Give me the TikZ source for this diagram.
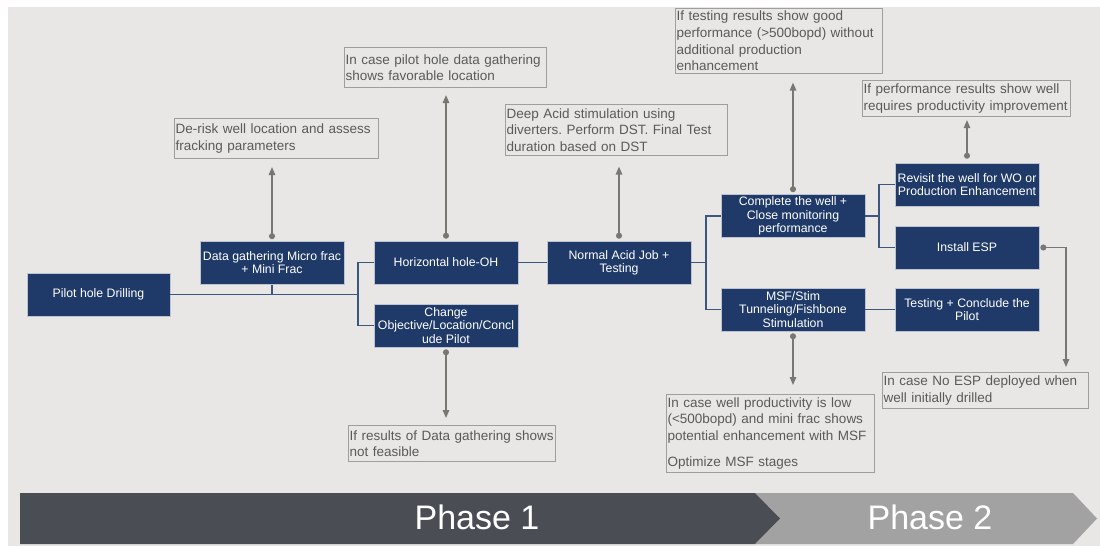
\documentclass[tikz,border=0pt]{standalone}
\usepackage{fontspec}
\setmainfont{Liberation Sans}
\usetikzlibrary{arrows.meta}
\definecolor{bg}{HTML}{E8E7E5}
\definecolor{navy}{HTML}{1F3A68}
\definecolor{connc}{HTML}{3C5682}
\definecolor{annl}{HTML}{7A7672}
\definecolor{annb}{HTML}{A09E9C}
\definecolor{annt}{HTML}{5A5A5A}
\definecolor{ph1}{HTML}{4A4E54}
\definecolor{ph2}{HTML}{A2A2A2}
\frenchspacing
\begin{document}
\begin{tikzpicture}[x=1pt,y=-1pt,
  stepbox/.style={fill=navy, draw=white!70!navy, line width=0.6pt, text=white, align=center,
    font=\fontsize{12.3}{13.2}\selectfont, minimum width=144pt, minimum height=43pt, inner sep=1pt},
  note/.style 2 args={draw=annb, line width=1.1pt, text=annt, align=left,
    font=\fontsize{13.5}{16.6}\selectfont, inner xsep=1pt, inner ysep=1pt, anchor=north west,
    text width=#1, minimum height=#2},
  conn/.style={draw=connc, line width=1.4pt},
  ann/.style={draw=annl, line width=1.4pt, {Circle[length=6pt,fill=annl]}-{Triangle[length=8pt,width=6.5pt,fill=annl]}},
  phase/.style={text=white, font=\fontsize{34}{40}\selectfont, anchor=base},
]
\useasboundingbox (0,0) rectangle (1100,548);
\fill[white] (0,0) rectangle (1100,548);
\fill[bg] (8,7) rectangle (1100,546);

% process boxes
\node[stepbox, minimum width=143pt] (pilot) at (98.5,294.5) {Pilot hole Drilling};
\node[stepbox] (dg) at (272,263) {Data gathering Micro frac\\+ Mini Frac};
\node[stepbox] (hh) at (446,262.5) {Horizontal hole-OH};
\node[stepbox] (chg) at (446,325.5) {Change\\Objective/Location/Concl\\ude Pilot};
\node[stepbox] (na) at (619,262.5) {Normal Acid Job +\\Testing};
\node[stepbox] (cw) at (793,216) {Complete the well +\\Close monitoring\\performance};
\node[stepbox] (rv) at (967,184.5) {Revisit the well for WO or\\Production Enhancement};
\node[stepbox] (esp) at (967,247.5) {Install ESP};
\node[stepbox] (msf) at (793,309.5) {MSF/Stim\\Tunneling/Fishbone\\Stimulation};
\node[stepbox] (tc) at (967,309.5) {Testing + Conclude the\\Pilot};

% annotation boxes
\node[note={202pt}{40pt}] (derisk) at (174,118) {De-risk well location and assess\\fracking parameters};
\node[note={200pt}{40pt}] (fav) at (344,47) {In case pilot hole data gathering\\shows favorable location};
\node[note={220pt}{51pt}] (deep) at (505,104) {Deep Acid stimulation using\\diverters. Perform DST. Final Test\\duration based on DST};
\node[note={205pt}{65pt}] (good) at (675,8) {If testing results show good\\performance (>500bopd) without\\additional production\\enhancement};
\node[note={206pt}{36pt}] (perf) at (862,80) {If performance results show well\\requires productivity improvement};
\node[note={206pt}{78pt}] (low) at (666,394) {In case well productivity is low\\(<500bopd) and mini frac shows\\potential enhancement with MSF\\[10pt]Optimize MSF stages};
\node[note={204pt}{36pt}] (noesp) at (882,372) {In case No ESP deployed when\\well initially drilled};
\node[note={205pt}{36pt}] (notfeas) at (348,425) {If results of Data gathering shows\\not feasible};

% flow connectors
\coordinate (j1) at (358,294.5);
\coordinate (j2) at (706,262.5);
\coordinate (j3) at (879,216);
\draw[conn] (pilot.east) -- (j1);
\draw[conn] (dg.south) -- (dg.south |- pilot.east);
\draw[conn] (hh.west) -| (j1) |- (chg.west);
\draw[conn] (hh.east) -- (na.west);
\draw[conn] (na.east) -- (j2);
\draw[conn] (cw.west) -| (j2) |- (msf.west);
\draw[conn] (cw.east) -- (j3);
\draw[conn] (rv.west) -| (j3) |- (esp.west);
\draw[conn] (msf.east) -- (tc.west);

% annotation arrows
\draw[ann, shorten >=8pt] ([yshift=2pt]dg.north) -- (dg.north |- derisk.south);
\draw[ann, shorten >=7pt] ([yshift=2pt]hh.north) -- (hh.north |- fav.south);
\draw[ann, shorten >=10.5pt] ([yshift=2pt]na.north) -- (na.north |- deep.south);
\draw[ann, shorten >=8.5pt] ([yshift=2pt]cw.north) -- (cw.north |- good.south);
\draw[ann, shorten >=3pt] ([yshift=4pt]rv.north) -- (rv.north |- perf.south);
\draw[ann, shorten >=9pt] ([yshift=-2pt]msf.south) -- (msf.south |- low.north);
\draw[ann, shorten >=7pt] ([yshift=-2pt]chg.south) -- (chg.south |- notfeas.north);
\coordinate (espturn) at (1066,247.5);
\draw[ann, shorten >=5pt] ([xshift=1pt]esp.east) -- (espturn) -- (espturn |- noesp.north);

% phase bar
\fill[ph2] (755,493) -- (1073,493) -- (1097,518.5) -- (1073,544) -- (755,544) -- (780,518.5) -- cycle;
\fill[ph1] (20,493) -- (755,493) -- (780,518.5) -- (755,544) -- (20,544) -- cycle;
\node[phase] (p1) at (477,529.5) {Phase 1};
\node[phase] (p2) at (930,529.5) {Phase 2};
\end{tikzpicture}
\end{document}
